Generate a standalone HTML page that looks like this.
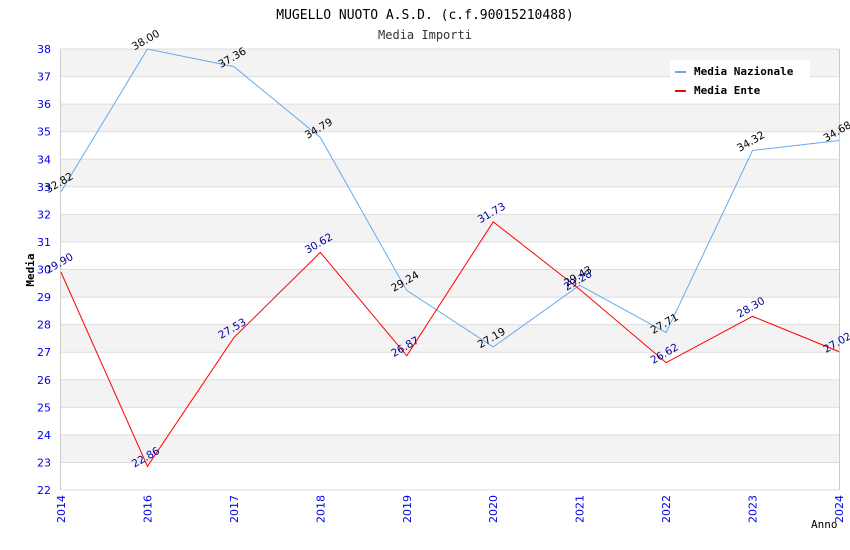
<!DOCTYPE html>
<html><head><meta charset="utf-8"><style>
body{margin:0;background:#fff;width:850px;height:550px;overflow:hidden}
svg{display:block}
text{font-family:"DejaVu Sans Mono","Liberation Mono",monospace}
.s{font-family:"DejaVu Sans","Liberation Sans",sans-serif}
</style></head><body>
<svg id="chart" width="850" height="550" xmlns="http://www.w3.org/2000/svg">
<text x="425" y="19" text-anchor="middle" font-size="13" fill="#000">MUGELLO NUOTO A.S.D. (c.f.90015210488)</text>
<text x="425" y="39" text-anchor="middle" font-size="12" fill="#333">Media Importi</text>
<g id="bands"></g><g id="grid"></g><g id="axes"></g><g id="series"></g><g id="labels"></g>
<text x="34" y="270" text-anchor="middle" font-size="11" font-weight="bold" transform="rotate(-90 34 270)">Media</text>
<text x="811" y="528" font-size="11">Anno</text>
<g>
<rect x="670" y="60" width="140" height="40" fill="#fff"/>
<g><rect x="675" y="71" width="11" height="2" fill="#66aaee"/><text x="694" y="75" font-size="11" font-weight="bold">Media Nazionale</text></g>
<g><rect x="675" y="90" width="11" height="2" fill="#ff0000"/><text x="694" y="94" font-size="11" font-weight="bold">Media Ente</text></g>
</g>
</svg>
<script>
const categories=["2014","2016","2017","2018","2019","2020","2021","2022","2023","2024"];
const nazionale=[32.82,38.00,37.36,34.79,29.24,27.19,29.43,27.71,34.32,34.68];
const ente=[29.90,22.86,27.53,30.62,26.87,31.73,29.28,26.62,28.30,27.02];
const yTicks=[22,23,24,25,26,27,28,29,30,31,32,33,34,35,36,37,38];
const NS="http://www.w3.org/2000/svg";
const L=61,R=839,T=49,B=490,yMin=22,yMax=38;
const x=i=>L+i*(R-L)/(categories.length-1);
const y=v=>B-(v-yMin)*(B-T)/(yMax-yMin);
function mk(tag,attrs,parent){const e=document.createElementNS(NS,tag);for(const k in attrs)e.setAttribute(k,attrs[k]);document.getElementById(parent).appendChild(e);return e;}
for(let i=0;i<yTicks.length-1;i++){const v=yTicks[i];
 if(v%2===1){const r=mk('rect',{x:L,y:y(v+1),width:R-L,height:y(v)-y(v+1),fill:'#f3f3f3'},'bands');
 
 }}
yTicks.forEach(v=>{const l=mk('line',{x1:L,x2:R,y1:y(v),y2:y(v),stroke:'#dddddd','stroke-width':1},'grid');
 
 
 const t=mk('text',{class:'s',x:51,y:y(v)+4,'text-anchor':'end','font-size':11,fill:'#0000ee'},'axes');t.textContent=v;
 
 });
mk('line',{x1:L-0.5,x2:L-0.5,y1:T,y2:B,stroke:'#cccccc'},'axes');
mk('line',{x1:R+0.5,x2:R+0.5,y1:T,y2:B,stroke:'#cccccc'},'axes');
categories.forEach((c,i)=>{const t=mk('text',{class:'s','font-size':11,fill:'#0000ee','text-anchor':'end',transform:`translate(${x(i)+4},${B+5}) rotate(-90)`},'axes');t.textContent=c;
 
 });
function series(data,color,lblColor,name){
 const p=mk('polyline',{points:data.map((v,i)=>x(i)+','+y(v)).join(' '),fill:'none',stroke:color,'stroke-width':1},'series');
 
 
 data.forEach((v,i)=>{const t=mk('text',{class:'s','font-size':10.5,fill:lblColor,'text-anchor':'middle',transform:`translate(${x(i)},${y(v)-6}) rotate(-30)`},'labels');t.textContent=v.toFixed(2);
 
 });
}
series(nazionale,'#66aaee','#000','nazionale');
series(ente,'#ff0000','#000099','ente');
</script>
</body></html>
